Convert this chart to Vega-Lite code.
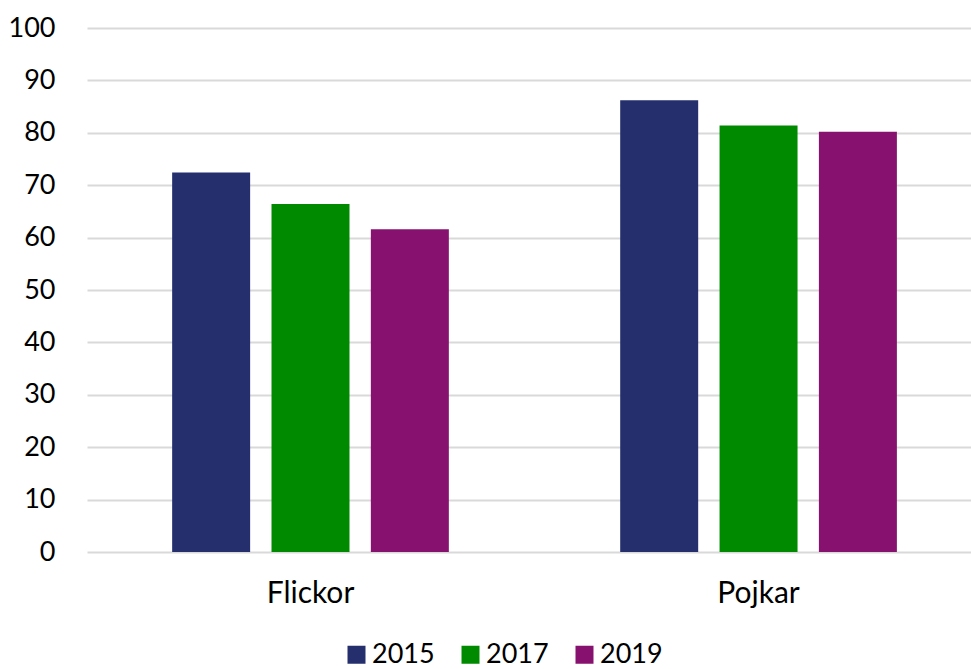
{
  "$schema": "https://vega.github.io/schema/vega-lite/v6.json",
  "width": 884,
  "height": 524,
  "autosize": {"type": "none"},
  "padding": {"left": 87, "top": 28, "right": 0, "bottom": 117},
  "background": "white",
  "config": {
    "font": "Lato",
    "view": {"stroke": null},
    "axis": {"labelFont": "Lato", "labelFontSize": 27, "labelColor": "#000000"}
  },
  "data": {
    "values": [
      {"grupp": "Flickor", "år": "2015", "värde": 72.4},
      {"grupp": "Flickor", "år": "2017", "värde": 66.4},
      {"grupp": "Flickor", "år": "2019", "värde": 61.6},
      {"grupp": "Pojkar", "år": "2015", "värde": 86.2},
      {"grupp": "Pojkar", "år": "2017", "värde": 81.4},
      {"grupp": "Pojkar", "år": "2019", "värde": 80.2}
    ]
  },
  "mark": {"type": "bar"},
  "encoding": {
    "x": {
      "field": "grupp",
      "type": "nominal",
      "scale": {"paddingInner": 0.335, "paddingOuter": 0.154, "align": 0.54},
      "axis": {"title": null, "labelAngle": 0, "domain": false, "ticks": false, "tickSize": 0, "labelPadding": 26, "labelFontSize": 30, "grid": false}
    },
    "xOffset": {
      "field": "år",
      "type": "nominal",
      "scale": {"paddingInner": 0.215, "paddingOuter": 0.107}
    },
    "y": {
      "field": "värde",
      "type": "quantitative",
      "scale": {"domain": [0, 100]},
      "axis": {
        "title": null,
        "values": [0, 10, 20, 30, 40, 50, 60, 70, 80, 90, 100],
        "domain": false,
        "ticks": false,
        "tickSize": 0,
        "labelPadding": 32,
        "gridColor": "#d9d9d9",
        "gridWidth": 2
      }
    },
    "color": {
      "field": "år",
      "type": "nominal",
      "scale": {"domain": ["2015", "2017", "2019"], "range": ["#252f6d", "#008a00", "#87116e"]},
      "legend": {
        "title": null,
        "orient": "none",
        "legendX": 256,
        "legendY": 613,
        "direction": "horizontal",
        "symbolType": "square",
        "symbolSize": 324,
        "symbolStrokeWidth": 0,
        "labelFont": "Lato",
        "labelFontSize": 27,
        "labelColor": "#000000",
        "labelOffset": 2,
        "columnPadding": 22
      }
    }
  }
}
